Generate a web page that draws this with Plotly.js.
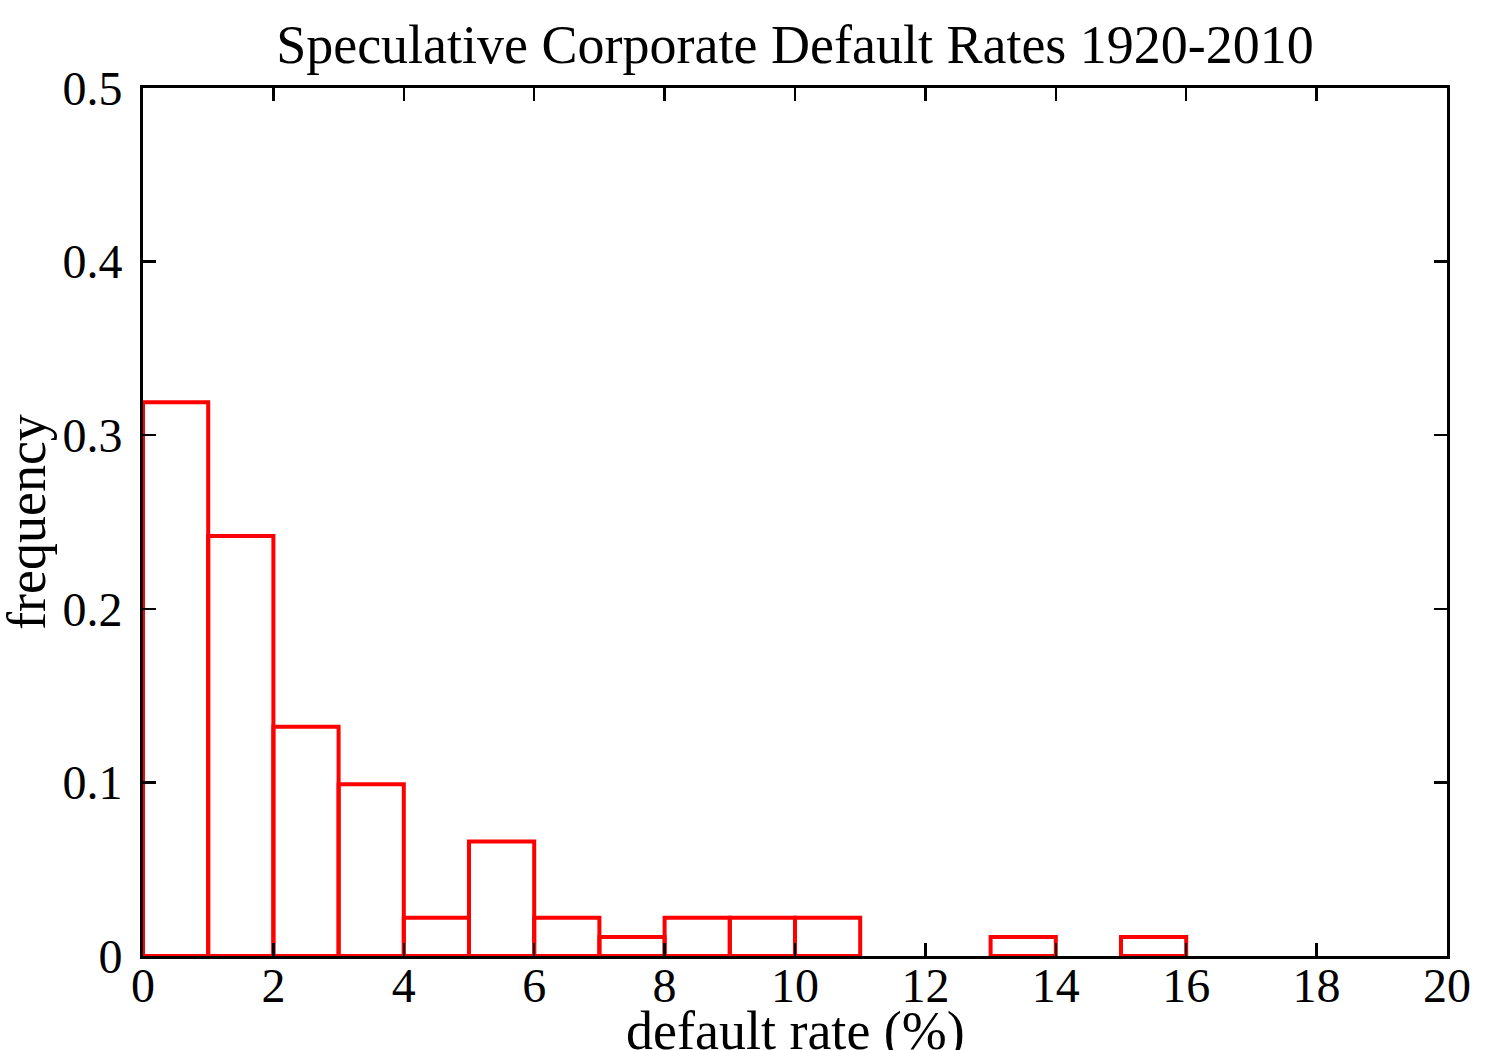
<!DOCTYPE html>
<html>
<head>
<meta charset="utf-8">
<script src="https://cdn.plot.ly/plotly-3.0.1.min.js"></script>
<style>html,body{margin:0;padding:0;background:#fff;}#chart{width:1500px;height:1050px;}</style>
</head>
<body>
<div id="chart"></div>
<script>
// Bin lower edges (default rate, %) and relative frequency of years 1920-2010
const binStarts = [0, 1, 2, 3, 4, 5, 6, 7, 8, 9, 10, 11, 12, 13, 14, 15];
const frequency = [0.319, 0.242, 0.132, 0.099, 0.022, 0.066, 0.022, 0.011, 0.022, 0.022, 0.022, 0, 0, 0.011, 0, 0.011];
const binWidth = 1;
const xTicks = [0, 2, 4, 6, 8, 10, 12, 14, 16, 18, 20];
const yTicks = [0, 0.1, 0.2, 0.3, 0.4, 0.5];
const yTickLabels = ['0', '0.1', '0.2', '0.3', '0.4', '0.5'];
const xTitle = 'default rate (%)';
const yTitle = 'frequency';

const xs = [], ys = [];
binStarts.forEach((b, i) => {
  if (frequency[i] > 0) { xs.push(b + binWidth / 2); ys.push(frequency[i]); }
});

const FONT = 'Liberation Serif, Times New Roman, serif';

const trace = {
  type: 'bar',
  x: xs,
  y: ys,
  width: binWidth,
  marker: { color: 'rgba(0,0,0,0)', line: { color: '#ff0000', width: 4 } },
  hoverinfo: 'x+y'
};

const layout = {
  width: 1500,
  height: 1050,
  paper_bgcolor: '#ffffff',
  plot_bgcolor: '#ffffff',
  margin: { l: 143, r: 53, t: 88, b: 94, pad: 0 },
  showlegend: false,
  font: { family: FONT, size: 48, color: '#000' },
  title: {
    text: 'Speculative Corporate Default Rates 1920-2010',
    font: { family: FONT, size: 54, color: '#000' },
    x: 0.5, xref: 'paper', xanchor: 'center',
    y: 1 - 44 / 1050, yref: 'container', yanchor: 'middle'
  },
  xaxis: {
    range: [0, 20],
    tickvals: xTicks,
    ticktext: xTicks.map(String),
    ticks: 'inside', ticklen: 13, tickwidth: 2.5, tickcolor: '#000',
    showline: true, linecolor: '#000', linewidth: 3, mirror: 'ticks',
    showgrid: false, zeroline: false,
    tickfont: { family: FONT, size: 48, color: '#000' },
    ticklabelstandoff: -15,
    automargin: false
  },
  yaxis: {
    range: [0, 0.5],
    tickvals: yTicks,
    ticktext: yTickLabels,
    ticks: 'inside', ticklen: 13, tickwidth: 2.5, tickcolor: '#000',
    showline: true, linecolor: '#000', linewidth: 3, mirror: 'ticks',
    showgrid: false, zeroline: false,
    tickfont: { family: FONT, size: 48, color: '#000' },
    ticklabelstandoff: 8,
    automargin: false
  },
  annotations: [
    {
      text: xTitle, xref: 'paper', yref: 'paper', x: 0.5, y: 0,
      xanchor: 'center', yanchor: 'middle', yshift: -75, showarrow: false,
      font: { family: FONT, size: 54, color: '#000' }
    },
    {
      text: yTitle, xref: 'paper', yref: 'paper', x: 0, y: 0.5,
      xanchor: 'center', yanchor: 'middle', xshift: -116, textangle: -90, showarrow: false,
      font: { family: FONT, size: 54, color: '#000' }
    }
  ],
  bargap: 0
};

Plotly.newPlot('chart', [trace], layout, { displayModeBar: false, staticPlot: true });
</script>
</body>
</html>
